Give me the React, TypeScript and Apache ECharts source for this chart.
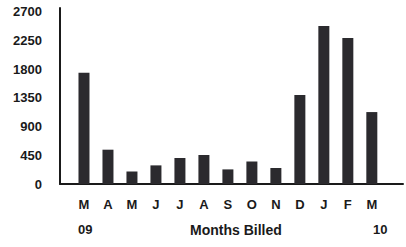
import React, { useEffect, useRef } from "react";
import * as echarts from "echarts";

const months = ["M", "A", "M", "J", "J", "A", "S", "O", "N", "D", "J", "F", "M"];
const billed = [1745, 538, 197, 292, 408, 455, 229, 354, 251, 1395, 2476, 2288, 1128];
const yTicks = [0, 450, 900, 1350, 1800, 2250, 2700];
const yearStart = "09";
const yearEnd = "10";
const axisTitle = "Months Billed";

export default function App() {
  const ref = useRef<HTMLDivElement>(null);
  useEffect(() => {
    const chart = echarts.init(ref.current!, null, { renderer: "svg" });
    const font = "Liberation Sans, Arial, sans-serif";
    chart.setOption({
      animation: false,
      backgroundColor: "#ffffff",
      grid: { left: 60, right: 0, top: 8, bottom: 63 },
      xAxis: {
        type: "value",
        min: 0,
        max: 14.3,
        interval: 1,
        splitLine: { show: false },
        axisTick: { show: false },
        axisLine: { show: true, lineStyle: { color: "#1a1a1a", width: 2 } },
        axisLabel: {
          margin: 14,
          color: "#1a1a1a",
          fontFamily: font,
          fontSize: 13,
          fontWeight: "bold",
          showMinLabel: true,
          showMaxLabel: true,
          formatter: (v: number) => {
            const i = Math.round(v) - 1;
            if (Math.abs(v - Math.round(v)) > 1e-6) return "";
            return i >= 0 && i < months.length ? months[i] : "";
          },
        },
      },
      yAxis: {
        type: "value",
        min: 0,
        max: 2760,
        interval: 450,
        splitLine: { show: false },
        axisTick: { show: false },
        axisLine: { show: true, lineStyle: { color: "#1a1a1a", width: 2 } },
        axisLabel: {
          margin: 18,
          color: "#1a1a1a",
          fontFamily: font,
          fontSize: 13,
          fontWeight: "bold",
          formatter: (v: number) => (yTicks.includes(v) ? String(v) : ""),
        },
      },
      series: [
        {
          type: "bar",
          barWidth: 11,
          itemStyle: { color: "#2b2a2e" },
          data: billed.map((v, i) => [i + 1, v]),
        },
      ],
      graphic: [
        {
          type: "text",
          left: 78,
          top: 223,
          style: { text: yearStart, font: `bold 13px ${font}`, fill: "#1a1a1a" },
        },
        {
          type: "text",
          left: 190,
          top: 223,
          style: { text: axisTitle, font: `bold 14px ${font}`, fill: "#1a1a1a" },
        },
        {
          type: "text",
          left: 373,
          top: 223,
          style: { text: yearEnd, font: `bold 13px ${font}`, fill: "#1a1a1a" },
        },
      ],
    });
    return () => chart.dispose();
  }, []);
  return (
    <div
      ref={ref}
      style={{ position: "fixed", left: 0, top: 0, width: 406, height: 247 }}
    />
  );
}
